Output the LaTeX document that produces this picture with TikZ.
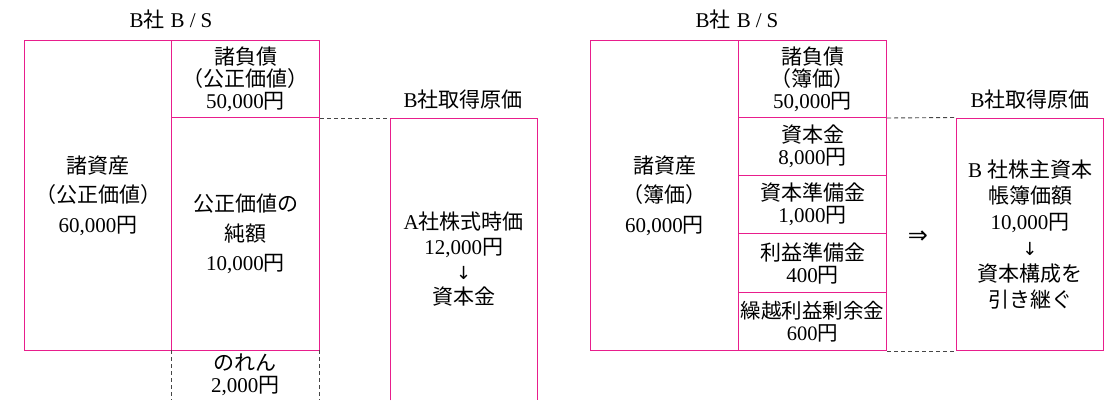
\documentclass[tikz,border=0pt]{standalone}
\usepackage{fontspec}
\setmainfont{Liberation Serif}
\newfontfamily\cjk{Noto Sans CJK JP}
\newfontfamily\sym{DejaVu Sans}
\newcommand\J[1]{{\cjk #1}}
\definecolor{pk}{RGB}{232,30,140}
\definecolor{dg}{RGB}{70,70,70}
\begin{document}
\begin{tikzpicture}[x=1pt,y=-1pt,
  plain/.style={inner sep=0pt, align=center, anchor=north west, font=\fontsize{21}{22}\selectfont},
  cell/.style={plain, draw=pk, line width=1pt},
  big/.style={cell, font=\fontsize{21}{29.5}\selectfont},
  ttl/.style={inner sep=0pt, font=\fontsize{21}{22}\selectfont},
  dsh/.style={draw=dg, dashed, line width=0.9pt, dash pattern=on 4pt off 3pt},
  pkl/.style={draw=pk, line width=1pt}]
\useasboundingbox (0,0) rectangle (1118,400);
% ---------- left diagram ----------
\node[ttl] (t1) at (171,20) {B\J{社}\hspace{6pt}B\hspace{5pt}/\hspace{5pt}S};
\node[big, minimum width=147pt, minimum height=310pt] (la) at (24,40) {\J{諸資産}\\\J{（公正価値）}\\60,000\J{円}};
\node[cell, minimum width=148pt, minimum height=77pt] (ll) at (171,40) {\J{諸負債}\\\J{（公正価値）}\\50,000\J{円}};
\node[big, minimum width=148pt, minimum height=233pt] (ln) at (171,117) {\J{公正価値の}\\\J{純額}\\10,000\J{円}};
\node[plain, minimum width=148pt, minimum height=50pt] (lg) at (171,350) {\J{のれん}\\2,000\J{円}};
\draw[dsh] (lg.north west) -- (lg.south west);
\draw[dsh] (lg.north east) -- (lg.south east);
\node[ttl] (t2) at (463,100) {B\J{社取得原価}};
\node[plain, minimum width=147pt, minimum height=282pt, font=\fontsize{21}{25}\selectfont] (lc) at (390,118) {A\J{社株式時価}\\12,000\J{円}\\{\sym\fontsize{18}{25}\selectfont ↓}\\\J{資本金}};
\draw[pkl] (lc.south west) -- (lc.north west) -- (lc.north east) -- (lc.south east);
\draw[dsh] (ll.south east) -- (lc.north west);
% ---------- right diagram ----------
\node[ttl] (t3) at (737,20) {B\J{社}\hspace{6pt}B\hspace{5pt}/\hspace{5pt}S};
\node[big, minimum width=148pt, minimum height=310pt] (ra) at (590,40) {\J{諸資産}\\\J{（簿価）}\\60,000\J{円}};
\node[cell, minimum width=148pt, minimum height=77pt] (rl) at (738,40) {\J{諸負債}\\\J{（簿価）}\\50,000\J{円}};
\node[cell, minimum width=148pt, minimum height=58pt] (r1) at (738,117) {\J{資本金}\\8,000\J{円}};
\node[cell, minimum width=148pt, minimum height=58pt] (r2) at (738,175) {\J{資本準備金}\\1,000\J{円}};
\node[cell, minimum width=148pt, minimum height=59pt] (r3) at (738,233) {\J{利益準備金}\\400\J{円}};
\node[cell, minimum width=148pt, minimum height=58pt, font=\fontsize{20.5}{22}\selectfont] (r4) at (738,292) {\J{繰越利益剰余金}\\600\J{円}};
\node[ttl] (t4) at (1030,100) {B\J{社取得原価}};
\node[cell, minimum width=147pt, minimum height=232.5pt, font=\fontsize{21}{26}\selectfont] (rc) at (956,117.5) {B\hspace{5pt}\J{社株主資本}\\\J{帳簿価額}\\10,000\J{円}\\{\sym\fontsize{18}{26}\selectfont ↓}\\\J{資本構成を}\\\J{引き継ぐ}};
\draw[dsh] (rl.south east) -- (rc.north west);
\draw[dsh] (r4.south east) -- (rc.south west);
\node[inner sep=0pt, font=\sym\fontsize{24}{24}\selectfont] (imp) at (918,237) {⇒};
\end{tikzpicture}
\end{document}
